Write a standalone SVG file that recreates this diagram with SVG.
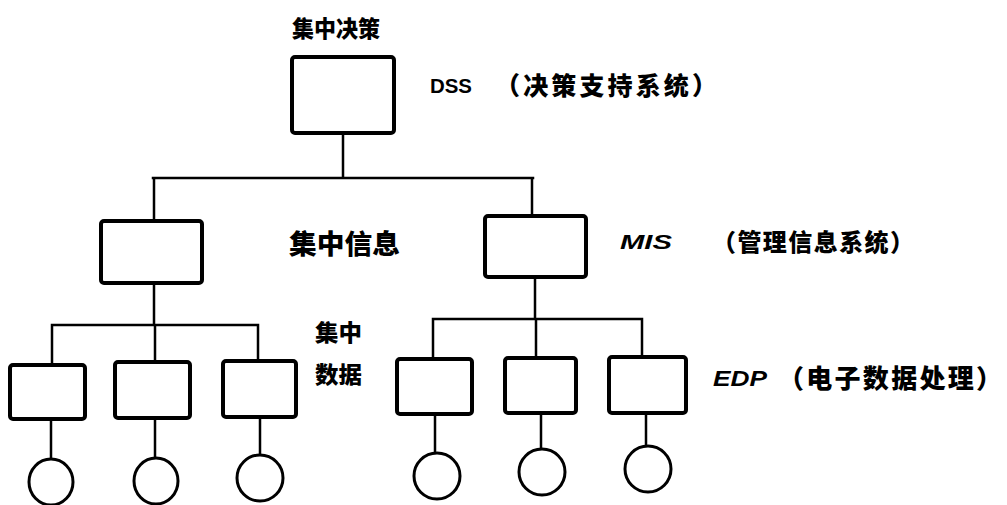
<svg xmlns="http://www.w3.org/2000/svg" width="1007" height="505" viewBox="0 0 1007 505">
<style>
.box{fill:#fff;stroke:#000;stroke-width:4;stroke-linejoin:round}
.leaf{fill:#fff;stroke:#000;stroke-width:3}
.ln{stroke:#000;stroke-width:2.5;fill:none;stroke-linecap:square}
.cjk{font-family:"Noto Sans CJK SC","Noto Sans CJK JP",sans-serif;font-weight:900;fill:#000}
.lat{font-family:"Liberation Sans","DejaVu Sans",sans-serif;font-style:italic;font-weight:700;fill:#000}
.up{font-style:normal}
</style>
<rect width="1007" height="505" fill="#fff"/>
<g id="connectors">
<path class="ln" d="M343 133V178M153 178H533M154 178V221M532 178V216"/>
<path class="ln" d="M154 283V325M52 325H258M52 325V365M155 325V362M258 325V361"/>
<path class="ln" d="M535 277V319M433 319H642M433 319V359M536 319V358M642 319V357"/>
<path class="ln" d="M51 419V459M155 418V458M260 417V455M435 414V453M541 413V449M646 413V447"/>
</g>
<g id="dss"><rect class="box" x="292" y="57" width="102" height="76" rx="3"/></g>
<g id="info"><rect class="box" x="101" y="221" width="101" height="62" rx="3"/></g>
<g id="mis"><rect class="box" x="485" y="216" width="101" height="61" rx="3"/></g>
<g id="d1"><rect class="box" x="10" y="365" width="75" height="54" rx="3"/></g>
<g id="d2"><rect class="box" x="115" y="362" width="75" height="56" rx="3"/></g>
<g id="d3"><rect class="box" x="223" y="361" width="73" height="56" rx="3"/></g>
<g id="e1"><rect class="box" x="397" y="359" width="75" height="55" rx="3"/></g>
<g id="e2"><rect class="box" x="505" y="358" width="71" height="55" rx="3"/></g>
<g id="e3"><rect class="box" x="609" y="357" width="77" height="56" rx="3"/></g>
<g id="c1"><ellipse class="leaf" cx="51" cy="482" rx="22" ry="23"/></g>
<g id="c2"><ellipse class="leaf" cx="156" cy="481" rx="22" ry="23"/></g>
<g id="c3"><ellipse class="leaf" cx="260" cy="478" rx="23" ry="23"/></g>
<g id="c4"><ellipse class="leaf" cx="437" cy="476" rx="23" ry="23"/></g>
<g id="c5"><ellipse class="leaf" cx="542" cy="472" rx="23" ry="23"/></g>
<g id="c6"><ellipse class="leaf" cx="648" cy="469" rx="23" ry="23"/></g>
<g id="labels">
<text class="cjk" x="292" y="37" font-size="23" textLength="88" lengthAdjust="spacingAndGlyphs">集中决策</text>
<text class="lat up" x="430" y="93" font-size="21" textLength="42" lengthAdjust="spacingAndGlyphs">DSS</text>
<text class="cjk" x="495" y="95" font-size="25" textLength="222" lengthAdjust="spacing">（决策支持系统）</text>
<text class="cjk" x="289" y="254" font-size="27" textLength="111" lengthAdjust="spacingAndGlyphs">集中信息</text>
<text class="lat" x="620" y="249" font-size="21" textLength="52" lengthAdjust="spacingAndGlyphs">MIS</text>
<text class="cjk" x="712" y="251" font-size="24" textLength="202" lengthAdjust="spacing">（管理信息系统）</text>
<text class="cjk" x="315" y="341" font-size="23" textLength="47" lengthAdjust="spacingAndGlyphs">集中</text>
<text class="cjk" x="315" y="383" font-size="23" textLength="47" lengthAdjust="spacingAndGlyphs">数据</text>
<text class="lat" x="713" y="386" font-size="22" textLength="54" lengthAdjust="spacingAndGlyphs">EDP</text>
<text class="cjk" x="778" y="388" font-size="26" textLength="224" lengthAdjust="spacing">（电子数据处理）</text>
</g>
</svg>
